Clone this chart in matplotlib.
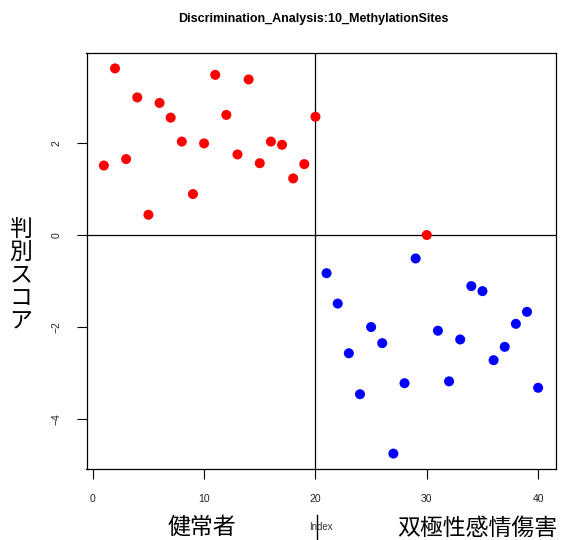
import numpy as np
import matplotlib.pyplot as plt
from matplotlib.lines import Line2D
from matplotlib import font_manager as fm

# discriminant scores, index 1..40
scores = [1.51, 3.62, 1.65, 2.99, 0.44, 2.87, 2.55, 2.03, 0.89, 1.99,
          3.48, 2.61, 1.75, 3.38, 1.56, 2.03, 1.96, 1.23, 1.54, 2.57,
          -0.83, -1.49, -2.57, -3.46, -2.00, -2.35, -4.75, -3.22, -0.51, 0.00,
          -2.08, -3.18, -2.27, -1.11, -1.22, -2.72, -2.43, -1.93, -1.67, -3.32]
# predicted group: 1 = healthy (red), 2 = bipolar (blue)
pred = [1] * 20 + [2] * 9 + [1] + [2] * 10
group_colors = {1: 'red', 2: 'blue'}

title = 'Discrimination_Analysis:10_MethylationSites'
ylabel = '判別スコア'
group_names = ['健常者', '双極性感情傷害']
x_ticks = [0, 10, 20, 30, 40]
y_ticks = [-4, -2, 0, 2]


# pick the regular-width Liberation Sans files (avoid the Narrow variant)
def find_font(bold=False):
    for f in fm.fontManager.ttflist:
        p = f.fname.lower()
        if 'liberationsans' in p.replace('-', '').replace(' ', '') and 'narrow' not in p:
            is_bold = 'bold' in p and 'italic' not in p
            is_reg = 'regular' in p
            if (bold and is_bold) or (not bold and is_reg):
                return fm.FontProperties(fname=f.fname)
    return fm.FontProperties(family='DejaVu Sans', weight='bold' if bold else 'normal')


reg = find_font(False)
bold = find_font(True)

idx = np.arange(1, len(scores) + 1)

fig = plt.figure(figsize=(5.62, 5.4), dpi=100)
W, H = 562, 540
ax = fig.add_axes([86.5 / W, 1 - 469 / H, (555.5 - 86.5) / W, (469 - 53) / H])

ax.scatter(idx, scores, c=[group_colors[p] for p in pred], s=52, linewidths=0, zorder=3)
ax.axvline(20, color='black', lw=0.9)
ax.axhline(0, color='black', lw=0.9)

# R style limits (4% padding)
rng = max(scores) - min(scores)
ax.set_xlim(1 - 0.04 * 39, 40 + 0.04 * 39)
ax.set_ylim(min(scores) - 0.04 * rng, max(scores) + 0.04 * rng)

ax.set_xticks(x_ticks)
ax.set_yticks(y_ticks)
ax.tick_params(direction='out', length=7.5, width=0.8, pad=10.5)
for lab in ax.get_xticklabels() + ax.get_yticklabels():
    lab.set_fontproperties(reg)
    lab.set_fontsize(7.5)
    lab.set_color('#222222')
for lab in ax.get_yticklabels():
    lab.set_rotation(90)
    lab.set_va('center')
for sp in ax.spines.values():
    sp.set_linewidth(0.9)

fig.text(313 / W, 1 - 19 / H, title, ha='center', va='center', fontproperties=bold, fontsize=9)

jp = ['Noto Sans CJK JP', 'DejaVu Sans']
# vertical y label, one character per line
for i, ch in enumerate(ylabel):
    fig.text(21 / W, 1 - (229 + i * 23) / H, ch, ha='center', va='center', fontsize=16.5, family=jp)

fig.text(202 / W, 1 - 528 / H, group_names[0], ha='center', va='center', fontsize=16.5, family=jp)
fig.text(477 / W, 1 - 528 / H, group_names[1], ha='center', va='center', fontsize=16.5, family=jp)
fig.text(321 / W, 1 - 527 / H, 'Index', ha='center', va='center', fontproperties=reg,
         fontsize=7, color='#333333')
fig.add_artist(Line2D([316.7 / W, 316.7 / W], [1 - 515 / H, 1 - 540 / H], color='black', lw=1))

fig.savefig('out.png', dpi=100)
